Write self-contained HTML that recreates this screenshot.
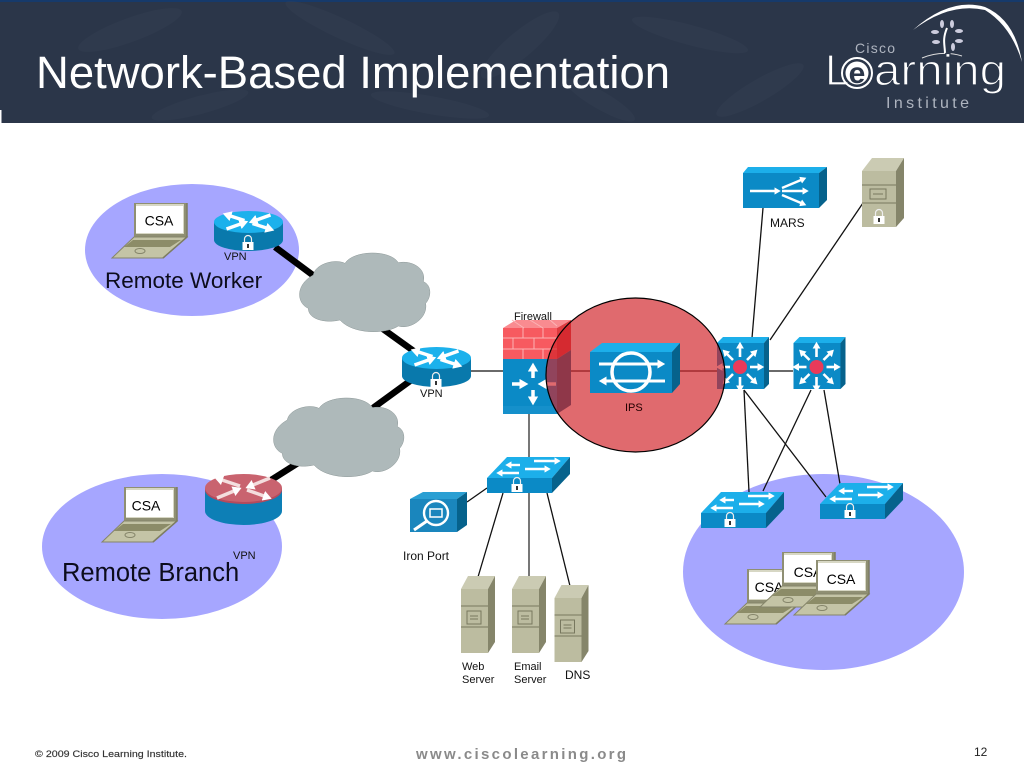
<!DOCTYPE html>
<html><head><meta charset="utf-8"><style>
html,body{margin:0;padding:0;background:#fff;width:1024px;height:768px;overflow:hidden}
svg{display:block;font-family:"Liberation Sans",Arial,sans-serif}
</style></head><body>
<svg width="1024" height="768" viewBox="0 0 1024 768" xmlns="http://www.w3.org/2000/svg">
<defs>
<marker id="a" markerWidth="3" markerHeight="3" refX="0.2" refY="1.5" orient="auto"><path d="M0 0L2.6 1.5L0 3Z" fill="#fff"/></marker>
<g id="lock"><path d="M-3.5 -1V-4a3.5 3.5 0 0 1 7 0V-1" fill="none" stroke="#eee" stroke-width="1.2"/><rect x="-5.5" y="-1" width="11" height="8" fill="#fff"/><rect x="-1" y="1" width="2" height="4" fill="#333"/></g>
<g id="sw">
<path d="M0 21L20 0H83L65 21Z" fill="#1cafea"/><path d="M65 21L83 0V17L65 36Z" fill="#06628c"/><rect x="0" y="21" width="65" height="15" fill="#0b8ac6"/>
<g stroke="#fff" stroke-width="2.4" marker-end="url(#a)"><line x1="33" y1="8" x2="24" y2="8"/><line x1="47" y1="4" x2="68" y2="4"/><line x1="32" y1="16" x2="15" y2="16"/><line x1="38" y1="12" x2="58" y2="12"/></g>
</g>
<g id="rt">
<path d="M-34.5 0V18A34.5 11 0 0 0 34.5 18V0Z" fill="#0979ac"/><ellipse rx="34.5" ry="11" fill="#1cb1ec"/>
<g stroke="#fff" stroke-width="3.4" marker-end="url(#a)"><line x1="-4" y1="-1.500" x2="-18" y2="-6"/><line x1="4" y1="1.500" x2="18" y2="6"/><line x1="22" y1="-7" x2="8" y2="-2"/><line x1="-22" y1="7" x2="-8" y2="2"/></g>
</g>
<g id="laptop">
<path d="M134 203H187V237H134Z" fill="#8f8f73"/><path d="M136 204H184V234H136Z" fill="#d7d7c4"/><rect x="136" y="206" width="47" height="27" fill="#fff"/>
<path d="M134 237H187L163 258H112Z" fill="#c4c4a6" stroke="#85856a" stroke-width="1"/><path d="M133 240H181L170 247H124Z" fill="#8c8c68"/><ellipse cx="140" cy="251" rx="5" ry="2.5" fill="none" stroke="#85856a"/>
<path d="M187 203V237L163 258" fill="none" stroke="#7d7d62" stroke-width="1.5"/>
</g>
<g id="l3">
<path d="M0 6L6 0H52L47 6Z" fill="#1cafea"/><path d="M47 6L52 0V47L47 52Z" fill="#06628c"/><rect y="6" width="47" height="46" fill="#0b8ac6"/>
<g stroke="#fff" stroke-width="2.6" marker-end="url(#a)"><line x1="23" y1="20" x2="23" y2="11"/><line x1="23" y1="40" x2="23" y2="49"/><line x1="13" y1="30" x2="5" y2="30"/><line x1="33" y1="30" x2="41" y2="30"/><line x1="16" y1="23" x2="10" y2="17"/><line x1="30" y1="23" x2="36" y2="17"/><line x1="16" y1="37" x2="10" y2="43"/><line x1="30" y1="37" x2="36" y2="43"/></g>
<circle cx="23" cy="30" r="7" fill="#e93a5a"/>
</g>
<g id="srv">
<path d="M0 13L7 0H34L27 13Z" fill="#cbcbb3"/><path d="M27 13L34 0V66L27 77Z" fill="#85856a"/><rect y="13" width="27" height="64" fill="#bcbca0"/>
<path d="M0 30H27M0 51H27" stroke="#77775e" stroke-width="1"/><rect x="6" y="35" width="14" height="13" fill="none" stroke="#77775e"/><path d="M9 40H17M9 43H17" stroke="#77775e"/>
</g>
<path id="cloud" d="M160 105C165 72 225 55 255 70C280 30 390 28 415 68C455 60 500 85 490 125C515 135 515 170 497 190C505 235 450 270 415 258C380 282 280 285 240 240C200 250 145 240 145 205C110 190 105 135 160 105Z" fill="#aeb9ba" stroke="#8d9898" stroke-width="1.5"/>
</defs>

<rect width="1024" height="123" fill="#2b3649"/>
<rect width="1024" height="2" fill="#163a6b"/>
<g fill="#3a4558" opacity=".3">
<ellipse cx="130" cy="30" rx="55" ry="12" transform="rotate(-20 130 30)"/><ellipse cx="340" cy="28" rx="60" ry="10" transform="rotate(25 340 28)"/><ellipse cx="520" cy="45" rx="50" ry="13" transform="rotate(-40 520 45)"/><ellipse cx="690" cy="35" rx="60" ry="10" transform="rotate(15 690 35)"/><ellipse cx="760" cy="90" rx="50" ry="11" transform="rotate(-30 760 90)"/><ellipse cx="430" cy="105" rx="60" ry="9" transform="rotate(10 430 105)"/><ellipse cx="200" cy="105" rx="50" ry="9" transform="rotate(-15 200 105)"/><ellipse cx="600" cy="100" rx="40" ry="9" transform="rotate(30 600 100)"/>
</g>
<rect x="0" y="110" width="1.5" height="13" fill="#fff"/>
<text x="36" y="88" font-size="45" fill="#fff" textLength="634" lengthAdjust="spacingAndGlyphs">Network-Based Implementation</text>

<!-- logo -->
<path d="M913 30Q950 -3 985 7Q1015 20 1022 62Q1011 26 985 10Q950 2 913 30Z" fill="#fff"/>
<path d="M945 54C945 45 942 40 947 28" stroke="#fff" stroke-width="2" fill="none"/><path d="M922 58Q942 50 962 56" stroke="#ddd" stroke-width="1" fill="none"/>
<g fill="#ccd"><ellipse cx="942" cy="24" rx="2" ry="4"/><ellipse cx="952" cy="24" rx="2" ry="4"/><ellipse cx="935" cy="32" rx="4" ry="2"/><ellipse cx="959" cy="31" rx="4" ry="2"/><ellipse cx="936" cy="42" rx="4" ry="2"/><ellipse cx="959" cy="41" rx="4" ry="2"/><ellipse cx="953" cy="47" rx="2" ry="4"/></g>
<text x="855" y="53" font-size="14" fill="#aeb4bf" textLength="40">Cisco</text>
<text x="825" y="85" font-size="44" fill="#fff" stroke="#2b3649" stroke-width="1.2">L</text>
<circle cx="857" cy="73" r="15" fill="none" stroke="#fff" stroke-width="2"/><circle cx="857" cy="73" r="11.5" fill="#fff"/>
<text x="857" y="83" font-size="30" font-weight="bold" fill="#2b3649" text-anchor="middle">e</text>
<text x="874" y="85" font-size="44" fill="#fff" stroke="#2b3649" stroke-width="1.2" textLength="132" lengthAdjust="spacingAndGlyphs">arning</text>
<text x="886" y="108" font-size="16" fill="#aeb4bf" textLength="83">Institute</text>

<!-- blobs -->
<ellipse cx="192" cy="250" rx="107" ry="66" fill="#a6a6ff"/>
<ellipse cx="162" cy="546.5" rx="120" ry="72.5" fill="#a6a6ff"/>
<ellipse cx="823.5" cy="572" rx="140.5" ry="98" fill="#a6a6ff"/>

<!-- thick links -->
<g stroke="#000" stroke-width="6.5"><line x1="275" y1="247" x2="314" y2="276"/><line x1="383" y1="329" x2="415" y2="352"/><line x1="410" y1="381" x2="373" y2="408"/><line x1="298" y1="463" x2="268" y2="482"/></g>

<!-- thin links -->
<g stroke="#111" stroke-width="1.3" fill="none">
<line x1="470" y1="371" x2="504" y2="371"/><line x1="556" y1="371" x2="590" y2="371"/><line x1="680" y1="371" x2="717" y2="371"/><line x1="769" y1="371" x2="793" y2="371"/>
<line x1="763" y1="208" x2="752" y2="338"/><line x1="863" y1="203" x2="770" y2="340"/>
<line x1="744" y1="390" x2="749" y2="492"/><line x1="744" y1="390" x2="826" y2="497"/><line x1="811" y1="390" x2="763" y2="491"/><line x1="824" y1="390" x2="840" y2="484"/>
<line x1="487" y1="488" x2="467" y2="502"/><line x1="503" y1="493" x2="478" y2="577"/><line x1="547" y1="493" x2="570" y2="586"/>
</g>
<path d="M529 414V458M529 493V577" stroke="#777" stroke-width="2" fill="none"/>

<!-- clouds -->
<use href="#cloud" transform="translate(260 240) scale(.3333)"/>
<use href="#cloud" transform="translate(234 385) scale(.3333)"/>

<!-- routers -->
<use href="#rt" x="248.5" y="222"/><use href="#lock" x="248" y="243"/>
<use href="#rt" x="436.5" y="358"/><use href="#lock" x="436" y="380"/>
<path d="M205 488V511A38.5 14 0 0 0 282 511V488Z" fill="#0d7fb6"/>
<path d="M205 488V490A38.5 14 0 0 0 282 490V488Z" fill="#b54a5c"/>
<ellipse cx="243.5" cy="488" rx="38.5" ry="14" fill="#c9636f"/>
<g stroke="#f4dede" stroke-width="3.4" marker-end="url(#a)"><line x1="240" y1="486" x2="222" y2="480"/><line x1="247" y1="490" x2="264" y2="496"/><line x1="270" y1="478" x2="253" y2="485"/><line x1="217" y1="498" x2="234" y2="491"/></g>

<!-- laptops -->
<use href="#laptop"/><text x="159" y="225.500" font-size="14" text-anchor="middle">CSA</text>
<use href="#laptop" x="-10" y="284"/><text x="146" y="510.500" font-size="14" text-anchor="middle">CSA</text>
<use href="#laptop" x="613" y="366"/><text x="769" y="592" font-size="14" text-anchor="middle">CSA</text>
<use href="#laptop" x="648" y="349"/><text x="808" y="577" font-size="14" text-anchor="middle">CSA</text>
<use href="#laptop" x="682" y="357"/><text x="841" y="584" font-size="14" text-anchor="middle">CSA</text>

<!-- switches -->
<use href="#sw" x="487" y="457"/><use href="#lock" x="517" y="485"/>
<use href="#sw" x="701" y="492"/><use href="#lock" x="730" y="520"/>
<use href="#sw" x="820" y="483"/><use href="#lock" x="850" y="511"/>

<!-- Iron Port -->
<path d="M410 499L423 492H467L457 499Z" fill="#2a9fd3"/><path d="M457 499L467 492V525L457 532Z" fill="#06628c"/><rect x="410" y="499" width="47" height="33" fill="#1a86bd"/>
<circle cx="436" cy="513" r="12" fill="none" stroke="#fff" stroke-width="2.4"/><rect x="430" y="509" width="12" height="8" fill="none" stroke="#fff" stroke-width="1.5"/><line x1="427" y1="521" x2="414" y2="530" stroke="#fff" stroke-width="3"/>

<!-- servers -->
<use href="#srv" x="461" y="576"/><use href="#srv" x="512" y="576"/><use href="#srv" x="554.500" y="585"/>

<!-- file server -->
<path d="M862 171L872 158H904L896 171Z" fill="#cbcbb3"/><path d="M896 171L904 158V218L896 227Z" fill="#85856a"/><rect x="862" y="171" width="34" height="56" fill="#bcbca0"/>
<path d="M862 185H896M862 203H896" stroke="#77775e"/><rect x="870" y="189" width="16" height="10" fill="none" stroke="#77775e"/><path d="M873 194H883" stroke="#77775e"/>
<use href="#lock" x="879" y="217"/>

<!-- MARS -->
<path d="M743 173L748 167H827L819 173Z" fill="#1cafea"/><path d="M819 173L827 167V200L819 208Z" fill="#06628c"/><rect x="743" y="173" width="76" height="35" fill="#0b8ac6"/>
<g stroke="#fff" stroke-width="2.4" marker-end="url(#a)"><line x1="750" y1="191" x2="775" y2="191"/><line x1="782" y1="188" x2="801" y2="180"/><line x1="782" y1="191" x2="803" y2="191"/><line x1="782" y1="195" x2="801" y2="203"/></g>

<!-- firewall -->
<path d="M503 328L516 320H571L557 328Z" fill="#f98b90"/><path d="M557 328L571 320V350L557 359Z" fill="#dc3a3f"/><rect x="503" y="328" width="54" height="31" fill="#f75a60"/>
<path d="M503 338H557M503 349H557M523 328V338M543 328V338M513 338V349M534 338V349M523 349V359M543 349V359M512 320L524 328M530 320L543 328M550 320L557 326" stroke="#fbb3b5" stroke-width="1" fill="none"/>
<path d="M557 359L571 350V405L557 414Z" fill="#06628c"/><rect x="503" y="359" width="54" height="55" fill="#0b8ac6"/><rect x="503" y="406" width="54" height="8" fill="#1590cb"/>
<g stroke="#fff" stroke-width="3.5" marker-end="url(#a)"><line x1="533" y1="378" x2="533" y2="371"/><line x1="533" y1="390" x2="533" y2="397"/><line x1="512" y1="384" x2="520" y2="384"/><line x1="556" y1="384" x2="546" y2="384"/></g>

<!-- L3 -->
<use href="#l3" x="717" y="337"/><use href="#l3" x="793.500" y="337"/>

<!-- labels -->
<g font-size="11" fill="#111">
<text x="224" y="260">VPN</text><text x="420" y="397">VPN</text><text x="233" y="559">VPN</text>
<text x="514" y="320">Firewall</text>
<text x="770" y="227" font-size="12">MARS</text><text x="403" y="560" font-size="12">Iron Port</text>
<text x="462" y="670">Web</text><text x="462" y="683">Server</text><text x="514" y="670">Email</text><text x="514" y="683">Server</text><text x="565" y="679" font-size="12">DNS</text>
</g>
<text x="105" y="288" font-size="22.500" fill="#0c0c1c">Remote Worker</text>
<text x="62" y="581" font-size="25.500" fill="#0c0c1c">Remote Branch</text>

<!-- red circle -->
<ellipse cx="635.500" cy="375" rx="89.500" ry="77" fill="#d2232a" fill-opacity=".68" stroke="#000" stroke-width="1.2"/>

<!-- IPS above the circle -->
<path d="M590 352L602 343H680L672 352Z" fill="#1cafea"/><path d="M672 352L680 343V384L672 393Z" fill="#06628c"/><rect x="590" y="352" width="82" height="41" fill="#0b8ac6"/>
<circle cx="631" cy="372" r="19" fill="none" stroke="#fff" stroke-width="3.5"/>
<g stroke="#fff" stroke-width="3" marker-end="url(#a)"><line x1="599" y1="364" x2="658" y2="364"/><line x1="665" y1="381" x2="606" y2="381"/></g>
<text x="625" y="411" font-size="11" fill="#200">IPS</text>

<!-- footer -->
<text x="35" y="757" font-size="9.500" fill="#333" stroke="#333" stroke-width=".15" textLength="152" lengthAdjust="spacingAndGlyphs">© 2009 Cisco Learning Institute.</text>
<text x="416" y="759" font-size="15" font-weight="bold" fill="#8a8a8a" textLength="210">www.ciscolearning.org</text>
<text x="974" y="756" font-size="12" fill="#222">12</text>
</svg>
</body></html>
